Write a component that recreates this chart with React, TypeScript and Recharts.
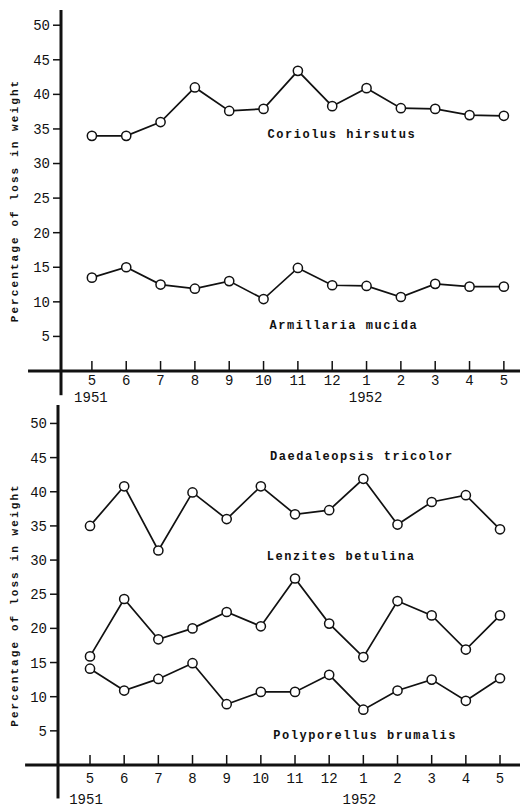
import React from 'react'
import { LineChart, Line, XAxis, YAxis, ReferenceLine, ReferenceDot } from 'recharts'

const months = ['5', '6', '7', '8', '9', '10', '11', '12', '1', '2', '3', '4', '5']
const years = ['1951', '', '', '', '', '', '', '', '1952', '', '', '', '']
const yTicks = [5, 10, 15, 20, 25, 30, 35, 40, 45, 50]

// top panel
const coriolus = [34, 34, 36, 41, 37.6, 37.9, 43.4, 38.3, 40.9, 38, 37.9, 37, 36.9]
const armillaria = [13.5, 15, 12.5, 11.9, 13, 10.4, 14.9, 12.4, 12.3, 10.7, 12.6, 12.2, 12.2]

// bottom panel
const daedaleopsis = [35, 40.8, 31.4, 39.9, 36, 40.8, 36.7, 37.3, 41.9, 35.2, 38.5, 39.5, 34.5]
const lenzites = [15.9, 24.3, 18.4, 20, 22.4, 20.3, 27.3, 20.7, 15.8, 24, 21.9, 16.9, 21.9]
const polyporellus = [14.1, 10.9, 12.6, 14.9, 8.9, 10.7, 10.7, 13.2, 8.1, 10.9, 12.5, 9.4, 12.7]

const topData = months.map((m, i) => ({ i, coriolus: coriolus[i], armillaria: armillaria[i] }))
const bottomData = months.map((m, i) => ({
  i,
  daedaleopsis: daedaleopsis[i],
  lenzites: lenzites[i],
  polyporellus: polyporellus[i],
}))

const INK = '#111'
const MONO = '"Liberation Mono", "DejaVu Sans Mono", monospace'
const dotStyle = { r: 4.6, stroke: INK, strokeWidth: 1.5, fill: '#fff' }

const makeTick = (monthDy: number, yearDy: number, yearDx: number) => (props: any) => {
  const { x, y, payload } = props
  const i = payload.value
  return (
    <g>
      <line x1={x} x2={x} y1={y} y2={y - 10} stroke={INK} strokeWidth={1.5} />
      <text x={x} y={y + monthDy} textAnchor="middle" fontFamily={MONO} fontSize={14} fill={INK}>
        {months[i]}
      </text>
      {years[i] && (
        <text x={x + yearDx} y={y + yearDy} textAnchor="middle" fontFamily={MONO} fontSize={14} fill={INK}>
          {years[i]}
        </text>
      )}
    </g>
  )
}

const makeYLabel = (shift: number) => (props: any) => {
  const { viewBox } = props
  const cx = 15
  const cy = viewBox.y + viewBox.height / 2 + shift
  return (
    <text
      x={cx}
      y={cy}
      transform={`rotate(-90 ${cx} ${cy})`}
      textAnchor="middle"
      dominantBaseline="central"
      fontFamily={MONO}
      fontSize={11}
      fontWeight="bold"
      letterSpacing={2.1}
      fill={INK}
    >
      Percentage of loss in weight
    </text>
  )
}

const seriesLabel = (text: string) => (p: any) => (
  <text
    x={p.cx}
    y={p.cy}
    textAnchor="middle"
    dominantBaseline="central"
    fontFamily={MONO}
    fontSize={12}
    fontWeight="bold"
    letterSpacing={1.55}
    fill={INK}
  >
    {text}
  </text>
)

const TOP_X = [-0.9, 12.47]
const BOT_X = [-0.937, 12.585]

export default function App() {
  return (
    <div style={{ position: 'absolute', left: 0, top: 0, width: 520, height: 809, background: '#fff' }}>
      <div style={{ position: 'absolute', left: 0, top: 400 }}>
        <LineChart width={520} height={409} data={bottomData} margin={{ top: 5, right: 0, left: 0, bottom: 0 }}>
          <XAxis
            dataKey="i"
            type="number"
            domain={BOT_X}
            allowDataOverflow
            ticks={months.map((_, i) => i)}
            height={44}
            tickLine={false}
            tickSize={0}
            tickMargin={0}
            axisLine={{ stroke: INK, strokeWidth: 3 }}
            tick={makeTick(18, 39, -4)}
            interval={0}
          />
          <YAxis
            type="number"
            domain={[0, 52.7]}
            allowDataOverflow
            ticks={yTicks}
            width={58}
            tickSize={8}
            tickMargin={3}
            tickLine={{ stroke: INK, strokeWidth: 1.5 }}
            axisLine={{ stroke: INK, strokeWidth: 3 }}
            tick={{ fontFamily: MONO, fontSize: 14, fill: INK }}
            label={makeYLabel(20)}
          />
          <ReferenceLine segment={[{ x: -1.9, y: 0 }, { x: BOT_X[0], y: 0 }]} stroke={INK} strokeWidth={3} ifOverflow="visible" />
          <ReferenceLine segment={[{ x: BOT_X[0], y: 0 }, { x: BOT_X[0], y: -4.9 }]} stroke={INK} strokeWidth={3} ifOverflow="visible" />
          <Line dataKey="daedaleopsis" stroke={INK} strokeWidth={1.7} dot={dotStyle} isAnimationActive={false} />
          <Line dataKey="lenzites" stroke={INK} strokeWidth={1.7} dot={dotStyle} isAnimationActive={false} />
          <Line dataKey="polyporellus" stroke={INK} strokeWidth={1.7} dot={dotStyle} isAnimationActive={false} />
          <ReferenceDot x={7.96} y={45.1} r={0} shape={seriesLabel('Daedaleopsis tricolor')} />
          <ReferenceDot x={7.35} y={30.5} r={0} shape={seriesLabel('Lenzites betulina')} />
          <ReferenceDot x={8.05} y={4.25} r={0} shape={seriesLabel('Polyporellus brumalis')} />
        </LineChart>
      </div>
      <div style={{ position: 'absolute', left: 0, top: 0 }}>
        <LineChart width={520} height={406} data={topData} margin={{ top: 10, right: 0, left: 0, bottom: 0 }}>
          <XAxis
            dataKey="i"
            type="number"
            domain={TOP_X}
            allowDataOverflow
            ticks={months.map((_, i) => i)}
            height={35}
            tickLine={false}
            tickSize={0}
            tickMargin={0}
            axisLine={{ stroke: INK, strokeWidth: 3 }}
            tick={makeTick(14, 31, -1)}
            interval={0}
          />
          <YAxis
            type="number"
            domain={[0, 52.2]}
            allowDataOverflow
            ticks={yTicks}
            width={61}
            tickSize={8}
            tickMargin={3}
            tickLine={{ stroke: INK, strokeWidth: 1.5 }}
            axisLine={{ stroke: INK, strokeWidth: 3 }}
            tick={{ fontFamily: MONO, fontSize: 14, fill: INK }}
            label={makeYLabel(10)}
          />
          <ReferenceLine segment={[{ x: -1.86, y: 0 }, { x: TOP_X[0], y: 0 }]} stroke={INK} strokeWidth={3} ifOverflow="visible" />
          <ReferenceLine segment={[{ x: TOP_X[0], y: 0 }, { x: TOP_X[0], y: -3.5 }]} stroke={INK} strokeWidth={3} ifOverflow="visible" />
          <Line dataKey="coriolus" stroke={INK} strokeWidth={1.7} dot={dotStyle} isAnimationActive={false} />
          <Line dataKey="armillaria" stroke={INK} strokeWidth={1.7} dot={dotStyle} isAnimationActive={false} />
          <ReferenceDot x={7.28} y={34.1} r={0} shape={seriesLabel('Coriolus hirsutus')} />
          <ReferenceDot x={7.34} y={6.5} r={0} shape={seriesLabel('Armillaria mucida')} />
        </LineChart>
      </div>
    </div>
  )
}
